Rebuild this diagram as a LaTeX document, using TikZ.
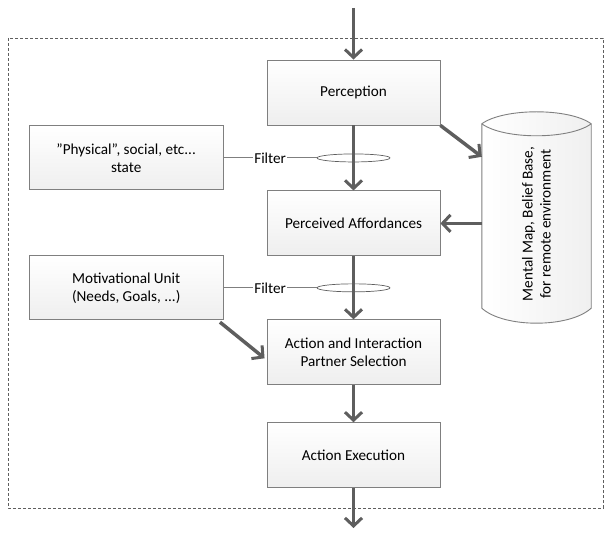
\documentclass[tikz,border=0pt]{standalone}
\usepackage{fontspec}
\setmainfont{Carlito}
\usepackage{xcolor}
\usepackage{tikz}
\usetikzlibrary{positioning, arrows.meta, shapes.geometric, calc}
\definecolor{flowgray}{HTML}{5E5E5E}
\definecolor{edgegray}{HTML}{7F7F7F}

\begin{document}
\begin{tikzpicture}[
    x=1pt, y=1pt,
    node distance=40pt,
    font=\fontsize{15.2}{18}\selectfont,
    stage/.style={draw=edgegray, line width=0.9pt, top color=white, bottom color=gray!13, minimum width=173pt, minimum height=65pt, align=center, inner sep=2pt},
    side/.style={stage, minimum width=194pt, minimum height=64pt},
    filterring/.style={draw=flowgray, line width=0.7pt, fill=white, ellipse, minimum width=73pt, minimum height=8pt, inner sep=0pt},
    filterline/.style={draw=edgegray, line width=0.9pt},
    flow/.style={draw=flowgray, line width=3.5pt, -{Straight Barb[length=8pt, width=17pt, line width=3pt]}},
    frame/.style={draw=flowgray, line width=0.7pt, dash pattern=on 3pt off 2pt}
]

\useasboundingbox (0,0) rectangle (604,533);
\draw[frame] (8,495) rectangle (603,25);

% main column
\node[stage] (perc) at (353.5,440.5) {Perception};
\node[stage, below=65pt of perc] (aff) {Perceived Affordances};
\node[stage, below=63pt of aff] (act) {Action and Interaction\\Partner Selection};
\node[stage, below=37pt of act] (exe) {Action Execution};

% filters
\node[filterring] (filt1) at ($(perc.south)!0.5!(aff.north)$) {};
\node[filterring] (filt2) at ($(aff.south)!0.5!(act.north)$) {};
\node[side, left=93pt of filt1] (phys) {”Physical”, social, etc...\\state};
\node[side, left=93pt of filt2] (motiv) {Motivational Unit\\(Needs, Goals, ...)};

% mental map store
\node[minimum width=109pt, minimum height=184pt, inner sep=0pt] (mem) at (536.5,317) {};
\draw[draw=edgegray, line width=0.9pt, left color=white, right color=gray!12]
    (mem.north west) .. controls +(22,16) and +(-22,16) .. (mem.north east)
    -- (mem.south east) .. controls +(-22,-20) and +(22,-20) .. (mem.south west) -- cycle;
\draw[draw=edgegray, line width=0.9pt]
    (mem.north west) .. controls +(22,-16) and +(-22,-16) .. (mem.north east);
\node[rotate=90, align=center] (memtext) at ([yshift=-8pt]mem.center) {Mental Map, Belief Base,\\for remote environment};

\coordinate (in) at (353.5,525);
\coordinate (out) at (353.5,5);
\coordinate (memin) at ($(mem.north west)+(0,-33)$);
\coordinate (actin) at ($(act.west)+(-2,-6)$);

\draw[filterline] (phys) -- node[fill=white, inner sep=1pt] {Filter} (filt1);
\draw[filterline] (motiv) -- node[fill=white, inner sep=1pt] {Filter} (filt2);

\draw[flow] (in) -- (perc.north);
\draw[flow] (perc) -- (aff);
\draw[flow] (aff) -- (act);
\draw[flow] (act) -- (exe);
\draw[flow] (exe) -- (out);
\draw[flow] (perc.south east) -- (memin);
\draw[flow] (mem.west |- aff.east) -- (aff.east);
\draw[flow, shorten <=3pt] ([xshift=-6pt]motiv.south east) -- (actin);

\end{tikzpicture}
\end{document}
